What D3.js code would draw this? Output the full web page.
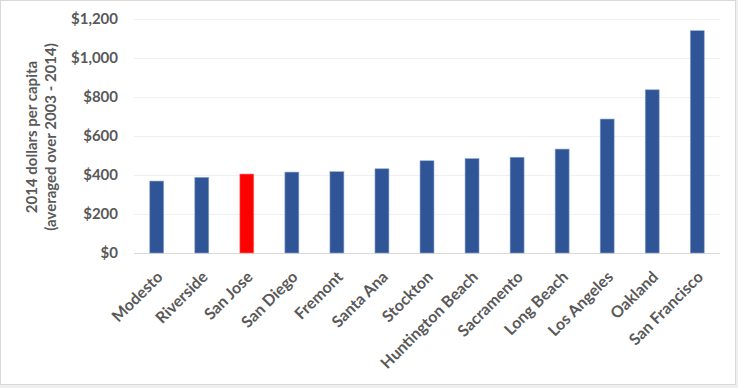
<meta charset="UTF-8">
<head>
  <script src="https://d3js.org/d3.v7.min.js"></script>
  <style>
    body { margin: 0; background: #fff; }
    text { font-family: Lato, "Open Sans", sans-serif; font-weight: bold; fill: #595959; }
  </style>
</head>
<body>
  <svg id="svg" width="738" height="388"></svg>
  <script>
    // data
    const cities = ["Modesto", "Riverside", "San Jose", "San Diego", "Fremont", "Santa Ana", "Stockton",
      "Huntington Beach", "Sacramento", "Long Beach", "Los Angeles", "Oakland", "San Francisco"];
    const spending = [369, 388, 405, 415, 417, 432, 473, 484, 491, 533, 687, 837, 1140];
    const highlight = ["San Jose"];
    const yTicks = [0, 200, 400, 600, 800, 1000, 1200];

    const svg = d3.select("#svg");
    const plotLeft = 134, plotRight = 720, plotTop = 19, plotBottom = 253;

    // frame (light gray outside, thin border)
    svg.append("rect").attr("width", 738).attr("height", 388).attr("fill", "#efefef");
    svg.append("rect").attr("x", 0.5).attr("y", 0.5).attr("width", 735).attr("height", 384)
      .attr("fill", "#fff").attr("stroke", "#d9d9d9");

    const x = d3.scaleBand().domain(cities).range([plotLeft, plotRight]).paddingInner(0.69).paddingOuter(0.35);
    const y = d3.scaleLinear().domain([0, 1200]).range([plotBottom, plotTop]);

    // gridlines
    svg.append("g").selectAll("line").data(yTicks).join("line")
      .attr("x1", plotLeft).attr("x2", plotRight)
      .attr("y1", d => y(d) + 0.5).attr("y2", d => y(d) + 0.5)
      .attr("stroke", d => d === 0 ? "#d9d9d9" : "#f0f0f0");

    // y axis labels
    const yAxis = d3.axisLeft(y).tickValues(yTicks).tickSize(0).tickPadding(0)
      .tickFormat(d => "$" + d3.format(",")(d));
    svg.append("g").attr("transform", `translate(118,0)`).call(yAxis)
      .call(g => g.select(".domain").remove())
      .selectAll("text").attr("font-size", 15).style("font-family", null);

    // bars
    svg.append("g").selectAll("rect").data(cities).join("rect")
      .attr("x", d => x(d)).attr("width", x.bandwidth())
      .attr("y", (d, i) => y(spending[i])).attr("height", (d, i) => y(0) - y(spending[i]))
      .attr("fill", d => highlight.includes(d) ? "#ff0000" : "#2f5597")
      .attr("stroke", d => highlight.includes(d) ? "#ff8080" : "#8fa6d0").attr("stroke-width", 0.6);

    // category labels
    svg.append("g").selectAll("text").data(cities).join("text")
      .attr("transform", d => `translate(${x(d) + x.bandwidth() / 2 + 3},${plotBottom + 21}) rotate(-45)`)
      .attr("text-anchor", "end").attr("font-size", 16).attr("dy", "0.35em")
      .text(d => d);

    // y title
    const title = svg.append("text").attr("transform", "translate(40,137) rotate(-90)")
      .attr("text-anchor", "middle").attr("font-size", 15);
    title.append("tspan").attr("x", 0).attr("dy", "-0.2em").text("2014 dollars per capita");
    title.append("tspan").attr("x", 0).attr("dy", "1.25em").text("(averaged over 2003 - 2014)");
  </script>
</body>
